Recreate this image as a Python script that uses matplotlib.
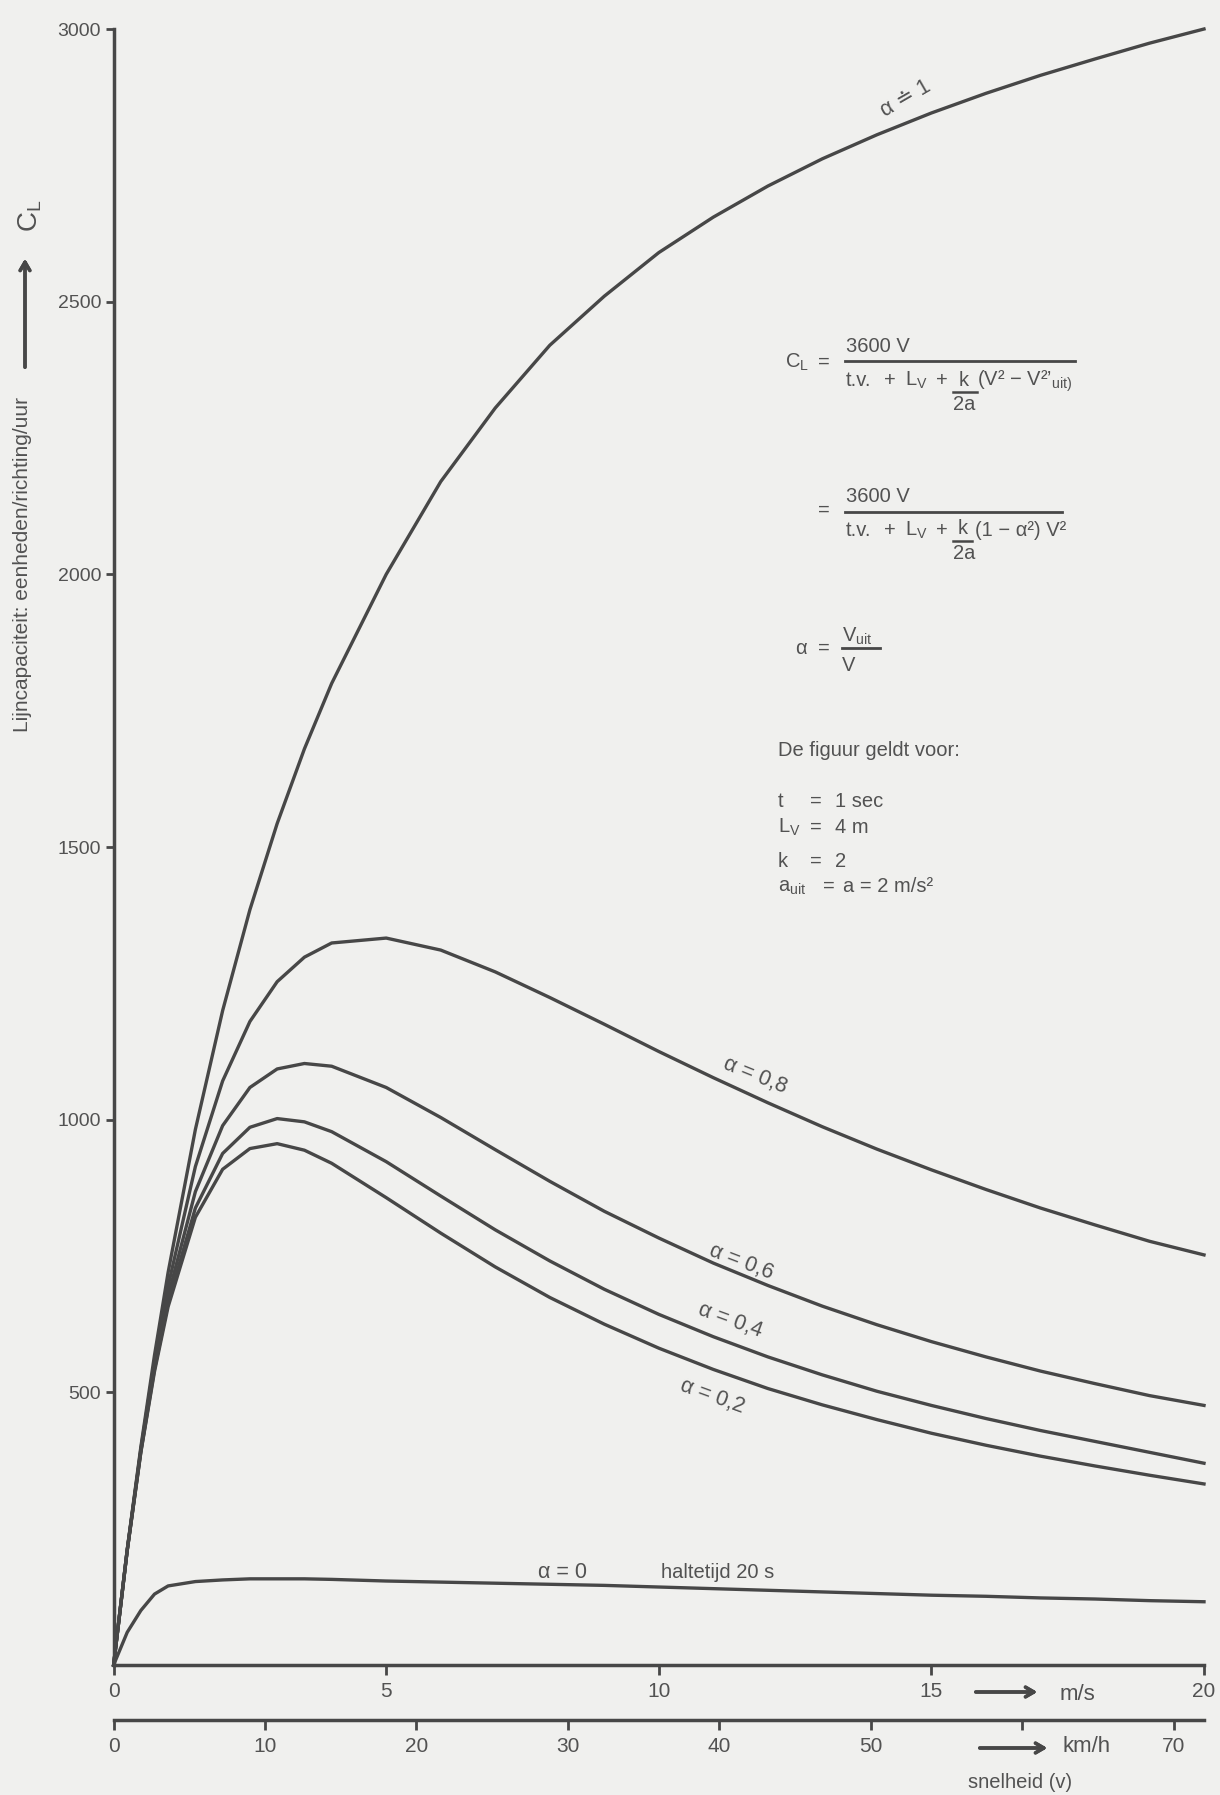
import matplotlib
matplotlib.use('Agg')
import matplotlib.pyplot as plt
from matplotlib.lines import Line2D

# snelheid V in m/s
speed = [0, 0.25, 0.5, 0.75, 1, 1.5, 2, 2.5, 3, 3.5, 4, 5, 6, 7, 8, 9, 10,
         11, 12, 13, 14, 15, 16, 17, 18, 19, 20]

cap_a10 = [0, 212, 400, 568, 720, 982, 1200, 1385, 1543, 1680, 1800, 2000, 2170,
           2305, 2420, 2510, 2590, 2655, 2712, 2762, 2806, 2846, 2882, 2915, 2945, 2974, 3000]
cap_a08 = [0, 211, 396, 557, 695, 914, 1071, 1180, 1253, 1298, 1324, 1333, 1311,
           1271, 1224, 1175, 1125, 1077, 1031, 987, 946, 908, 872, 838, 807, 777, 752]
cap_a06 = [0, 211, 393, 548, 677, 868, 989, 1059, 1093, 1103, 1098, 1059, 1004,
           945, 887, 832, 783, 737, 696, 658, 624, 593, 565, 539, 516, 494, 476]
cap_a04 = [0, 210, 391, 542, 664, 838, 938, 986, 1002, 996, 978, 923, 860,
           798, 741, 689, 643, 602, 565, 532, 502, 476, 452, 430, 410, 390, 370]
cap_a02 = [0, 210, 390, 538, 657, 821, 909, 947, 956, 944, 920, 857, 792,
           730, 674, 625, 581, 542, 507, 477, 450, 425, 403, 383, 365, 348, 332]
cap_a00 = [0, 60, 100, 130, 145, 153, 156, 158, 158, 158, 157, 154, 152,
           150, 148, 146, 143, 140, 137, 134, 131, 128, 126, 123, 121, 118, 116]

ms_ticks = [0, 5, 10, 15, 20]
kmh_ticks = [0, 10, 20, 30, 40, 50, 60, 70]
kmh_labels = ['0', '10', '20', '30', '40', '50', '', '70']
cap_ticks = [500, 1000, 1500, 2000, 2500, 3000]

bg = '#f0f0ee'
ink = '#474747'
txt = '#525252'

plt.rcParams['font.family'] = ['Liberation Sans', 'DejaVu Sans']
plt.rcParams['mathtext.fontset'] = 'custom'
plt.rcParams['mathtext.rm'] = 'Liberation Sans'
plt.rcParams['mathtext.it'] = 'Liberation Sans:italic'

W, H = 1220, 1795


def fx(px):
    return px / W


def fy(py):
    return 1 - py / H


fig = plt.figure(figsize=(12.2, 17.95), dpi=100, facecolor=bg)
ax = fig.add_axes([fx(113.6), fy(1665), (1204 - 113.6) / W, (1665 - 29) / H])
ax.set_facecolor('none')

for vals in [cap_a10, cap_a08, cap_a06, cap_a04, cap_a02, cap_a00]:
    ax.plot(speed, vals, color=ink, lw=2.4, solid_joinstyle='round', clip_on=False)

ax.set_xlim(0, 20)
ax.set_ylim(0, 3000)
for s in ['top', 'right']:
    ax.spines[s].set_visible(False)
for s in ['left', 'bottom']:
    ax.spines[s].set_linewidth(2.5)
    ax.spines[s].set_color(ink)

ax.set_xticks(ms_ticks)
ax.set_yticks(cap_ticks)
ax.tick_params(axis='y', direction='out', length=6, width=2, pad=3,
               labelsize=14, colors=ink, labelcolor=txt)
ax.tick_params(axis='x', direction='out', length=7, width=2, pad=5,
               labelsize=15, colors=ink, labelcolor=txt)

# tweede schaal in km/h
sec = ax.secondary_xaxis(-0.0336, functions=(lambda v: v * 3.6, lambda k: k / 3.6))
sec.set_xticks(kmh_ticks)
sec.set_xticklabels(kmh_labels)
sec.spines['bottom'].set_linewidth(2.5)
sec.spines['bottom'].set_color(ink)
sec.tick_params(axis='x', direction='out', length=7, width=2, pad=5,
                labelsize=15, colors=ink, labelcolor=txt)

# curve labels
lab = dict(color=txt, fontsize=15.5, ha='center', va='center', rotation_mode='anchor')
fig.text(fx(906), fy(99), 'α ≐ 1', rotation=30, **lab)
fig.text(fx(755), fy(1076), 'α = 0,8', rotation=-22, **lab)
fig.text(fx(741), fy(1262), 'α = 0,6', rotation=-21, **lab)
fig.text(fx(730), fy(1320), 'α = 0,4', rotation=-20, **lab)
fig.text(fx(712), fy(1396), 'α = 0,2', rotation=-20, **lab)
fig.text(fx(562), fy(1572), 'α = 0', **lab)
fig.text(fx(661), fy(1572), 'haltetijd 20 s', color=txt, fontsize=14.5, ha='left', va='center')

# as-eenheden
arrow = dict(arrowstyle='->,head_length=0.6,head_width=0.35', color=ink, lw=2.5)
fig.add_artist(plt.annotate('', xy=(fx(1040), fy(1692)), xytext=(fx(973), fy(1692)),
                            xycoords='figure fraction', arrowprops=arrow))
fig.text(fx(1060), fy(1695), 'm/s', color=txt, fontsize=16, va='center')
fig.add_artist(plt.annotate('', xy=(fx(1050), fy(1748)), xytext=(fx(977), fy(1748)),
                            xycoords='figure fraction', arrowprops=arrow))
fig.text(fx(1062), fy(1747), 'km/h', color=txt, fontsize=16, va='center')
fig.text(fx(968), fy(1782), 'snelheid (v)', color=txt, fontsize=14.5, va='center')

# y-as titel
fig.text(fx(23), fy(564), 'Lijncapaciteit: eenheden/richting/uur', color=txt,
         fontsize=15, rotation=90, ha='center', va='center')
fig.add_artist(plt.annotate('', xy=(fx(25), fy(256)), xytext=(fx(25), fy(370)),
                            xycoords='figure fraction', arrowprops=arrow))
fig.text(fx(30), fy(216), 'C$_\\mathrm{L}$', color=txt, fontsize=20,
         rotation=90, ha='center', va='center')

# formules
ft = dict(color=txt, fontsize=14.5, va='baseline')
fig.text(fx(785), fy(368), 'C$_\\mathrm{L}$', **ft)
fig.text(fx(818), fy(368), '=', **ft)
fig.text(fx(846), fy(352), '3600 V', **ft)
fig.add_artist(Line2D([fx(845), fx(1075)], [fy(361), fy(361)], color=ink, lw=2))
fig.text(fx(846), fy(386), 't.v.', **ft)
fig.text(fx(884), fy(386), '+', **ft)
fig.text(fx(905), fy(386), 'L$_\\mathrm{V}$', **ft)
fig.text(fx(936), fy(386), '+', **ft)
fig.text(fx(959), fy(386), 'k', **ft)
fig.add_artist(Line2D([fx(953), fx(977)], [fy(392), fy(392)], color=ink, lw=1.8))
fig.text(fx(953), fy(410), '2a', **ft)
fig.text(fx(977), fy(386), '(V² − V²’$_\\mathrm{uit)}$', **ft)

fig.text(fx(818), fy(516), '=', **ft)
fig.text(fx(846), fy(502), '3600 V', **ft)
fig.add_artist(Line2D([fx(845), fx(1062)], [fy(512), fy(512)], color=ink, lw=2))
fig.text(fx(846), fy(536), 't.v.', **ft)
fig.text(fx(884), fy(536), '+', **ft)
fig.text(fx(905), fy(536), 'L$_\\mathrm{V}$', **ft)
fig.text(fx(936), fy(536), '+', **ft)
fig.text(fx(958), fy(534), 'k', **ft)
fig.add_artist(Line2D([fx(953), fx(972)], [fy(541), fy(541)], color=ink, lw=1.8))
fig.text(fx(953), fy(559), '2a', **ft)
fig.text(fx(975), fy(536), '(1 − α²) V²', **ft)

fig.text(fx(795), fy(654), 'α', **ft)
fig.text(fx(818), fy(654), '=', **ft)
fig.text(fx(842), fy(642), 'V$_\\mathrm{uit}$', **ft)
fig.add_artist(Line2D([fx(842), fx(880)], [fy(648), fy(648)], color=ink, lw=2))
fig.text(fx(842), fy(671), 'V', **ft)

fig.text(fx(778), fy(756), 'De figuur geldt voor:', **ft)
fig.text(fx(778), fy(807), 't', **ft)
fig.text(fx(810), fy(807), '=', **ft)
fig.text(fx(835), fy(807), '1 sec', **ft)
fig.text(fx(778), fy(833), 'L$_\\mathrm{V}$', **ft)
fig.text(fx(810), fy(833), '=', **ft)
fig.text(fx(835), fy(833), '4 m', **ft)
fig.text(fx(778), fy(867), 'k', **ft)
fig.text(fx(810), fy(867), '=', **ft)
fig.text(fx(835), fy(867), '2', **ft)
fig.text(fx(778), fy(892), 'a$_\\mathrm{uit}$', **ft)
fig.text(fx(823), fy(892), '=', **ft)
fig.text(fx(843), fy(892), 'a = 2 m/s²', **ft)

fig.savefig('out.png', dpi=100, facecolor=bg)
